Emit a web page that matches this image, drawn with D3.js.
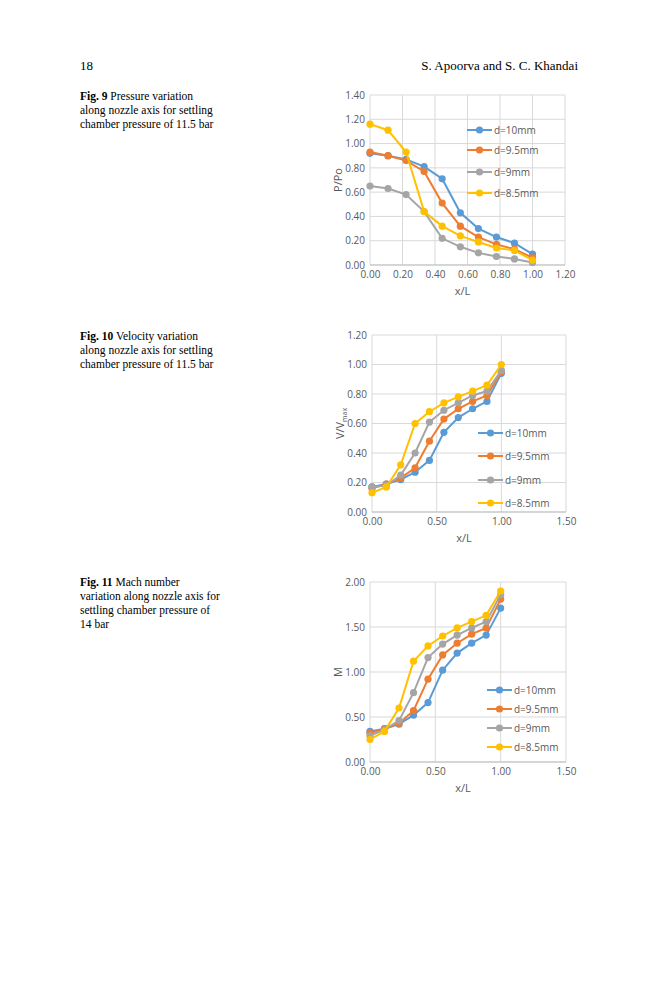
<!DOCTYPE html>
<html><head><meta charset="utf-8"><script src="https://cdn.jsdelivr.net/npm/d3@7"></script>
<style>body{margin:0;background:#fff}svg{display:block}</style></head><body>
<script>
const xs=[0,0.111,0.222,0.333,0.444,0.556,0.667,0.778,0.889,1.0];
const seriesNames=["d=10mm","d=9.5mm","d=9mm","d=8.5mm"];
const colors=["#5B9BD5","#ED7D31","#A5A5A5","#FFC000"];
const p10=[.92,.90,.87,.81,.71,.43,.30,.23,.18,.09];
const p95=[.93,.90,.86,.77,.51,.32,.23,.17,.13,.06];
const p9=[.65,.63,.58,.44,.22,.15,.10,.07,.05,.02];
const p85=[1.16,1.11,.93,.44,.32,.24,.19,.14,.12,.04];
const v10=[.17,.19,.22,.27,.35,.54,.64,.70,.75,.94];
const v95=[.16,.19,.23,.30,.48,.63,.70,.75,.79,.95];
const v9=[.17,.18,.25,.40,.61,.69,.74,.79,.82,.96];
const v85=[.13,.17,.32,.60,.68,.74,.78,.82,.86,1.00];
const m10=[.34,.37,.42,.52,.66,1.02,1.21,1.32,1.41,1.71];
const m95=[.32,.37,.43,.57,.92,1.19,1.32,1.42,1.49,1.81];
const m9=[.29,.36,.46,.77,1.16,1.31,1.41,1.49,1.56,1.86];
const m85=[.25,.34,.60,1.12,1.29,1.40,1.49,1.56,1.63,1.90];
const xTicks1=[0,0.2,0.4,0.6,0.8,1.0,1.2], yTicks1=[0,0.2,0.4,0.6,0.8,1.0,1.2,1.4];
const xTicks2=[0,0.5,1.0,1.5], yTicks2=[0,0.2,0.4,0.6,0.8,1.0,1.2];
const yTicks3=[0,0.5,1.0,1.5,2.0];

const svg=d3.select("body").append("svg").attr("width",659).attr("height",1000);
const serif="'Liberation Serif','DejaVu Serif',serif", sans="'Open Sans','Liberation Sans',sans-serif";
svg.append("text").attr("x",80).attr("y",70).attr("font-family",serif).attr("font-size",13).text("18");
svg.append("text").attr("x",578).attr("y",70).attr("text-anchor","end").attr("font-family",serif).attr("font-size",13).text("S. Apoorva and S. C. Khandai");

function caption(y,bold,lines){
  const t=svg.append("text").attr("font-family",serif).attr("font-size",11.5);
  lines.forEach((l,i)=>{const ts=t.append("tspan").attr("x",80).attr("y",y+i*14);
    if(i===0){ts.append("tspan").attr("font-weight","bold").text(bold);ts.append("tspan").text(l);} else ts.text(l);});
}
caption(100,"Fig. 9",["  Pressure variation","along nozzle axis for settling","chamber pressure of 11.5 bar"]);
caption(340,"Fig. 10",["  Velocity variation","along nozzle axis for settling","chamber pressure of 11.5 bar"]);
caption(586,"Fig. 11",["  Mach number","variation along nozzle axis for","settling chamber pressure of","14 bar"]);

function chart(o){
  const x=d3.scaleLinear().domain(o.xd).range([o.x0,o.x1]);
  const y=d3.scaleLinear().domain(o.yd).range([o.y0,o.y1]);
  const g=svg.append("g");
  o.xt.forEach(t=>g.append("line").attr("x1",x(t)).attr("x2",x(t)).attr("y1",o.y0).attr("y2",o.y1).attr("stroke","#d9d9d9"));
  o.yt.forEach(t=>g.append("line").attr("x1",o.x0).attr("x2",o.x1).attr("y1",y(t)).attr("y2",y(t)).attr("stroke","#d9d9d9"));
  g.append("line").attr("x1",o.x0).attr("x2",o.x1).attr("y1",o.y0).attr("y2",o.y0).attr("stroke","#bfbfbf");
  const xa=g.append("g").attr("transform",`translate(0,${o.y0})`).call(d3.axisBottom(x).tickValues(o.xt).tickFormat(d3.format(".2f")).tickSize(0).tickPadding(6));
  const ya=g.append("g").attr("transform",`translate(${o.x0},0)`).call(d3.axisLeft(y).tickValues(o.yt).tickFormat(d3.format(".2f")).tickSize(0).tickPadding(5));
  [xa,ya].forEach(a=>{a.select(".domain").remove();a.selectAll("text").attr("font-family",sans).attr("font-size",10).attr("fill","#595959");});
  g.append("text").attr("x",(o.x0+o.x1)/2-5).attr("y",o.y0+30).attr("text-anchor","middle").attr("font-family",sans).attr("font-size",11).attr("fill","#595959").text("x/L");
  const yl=g.append("text").attr("transform",`translate(${o.x0-28},${(o.y0+o.y1)/2}) rotate(-90)`).attr("text-anchor","middle").attr("font-family",sans).attr("font-size",11).attr("fill","#595959");
  if(o.ylab==="V") {yl.append("tspan").text("V/V");yl.append("tspan").attr("font-size",7).attr("dy",3).text("max");}
  else yl.text(o.ylab);
  const line=d3.line().x((d,i)=>x(xs[i])).y(d=>y(d));
  o.data.forEach((s,k)=>{
    g.append("path").attr("d",line(s)).attr("fill","none").attr("stroke",colors[k]).attr("stroke-width",2);
    s.forEach((v,i)=>g.append("circle").attr("cx",x(xs[i])).attr("cy",y(v)).attr("r",3.6).attr("fill",colors[k]));
  });
  o.leg.forEach((ly,k)=>{
    g.append("line").attr("x1",o.lx).attr("x2",o.lx+25).attr("y1",ly).attr("y2",ly).attr("stroke",colors[k]).attr("stroke-width",2);
    g.append("circle").attr("cx",o.lx+12.5).attr("cy",ly).attr("r",3.6).attr("fill",colors[k]);
    g.append("text").attr("x",o.lx+27).attr("y",ly+4).attr("font-family",sans).attr("font-size",10).attr("fill","#595959").text(seriesNames[k]);
  });
}
chart({xd:[0,1.2],yd:[0,1.4],x0:370,x1:565,y0:265,y1:95,xt:xTicks1,yt:yTicks1,ylab:"P/Po",data:[p10,p95,p9,p85],lx:467,leg:[130,150,172,193]});
chart({xd:[0,1.5],yd:[0,1.2],x0:372,x1:566,y0:512,y1:335,xt:xTicks2,yt:yTicks2,ylab:"V",data:[v10,v95,v9,v85],lx:478,leg:[433,456,480,503]});
chart({xd:[0,1.5],yd:[0,2.0],x0:370,x1:566,y0:762,y1:582,xt:xTicks2,yt:yTicks3,ylab:"M",data:[m10,m95,m9,m85],lx:487,leg:[690,709,728,747]});
</script></body></html>
